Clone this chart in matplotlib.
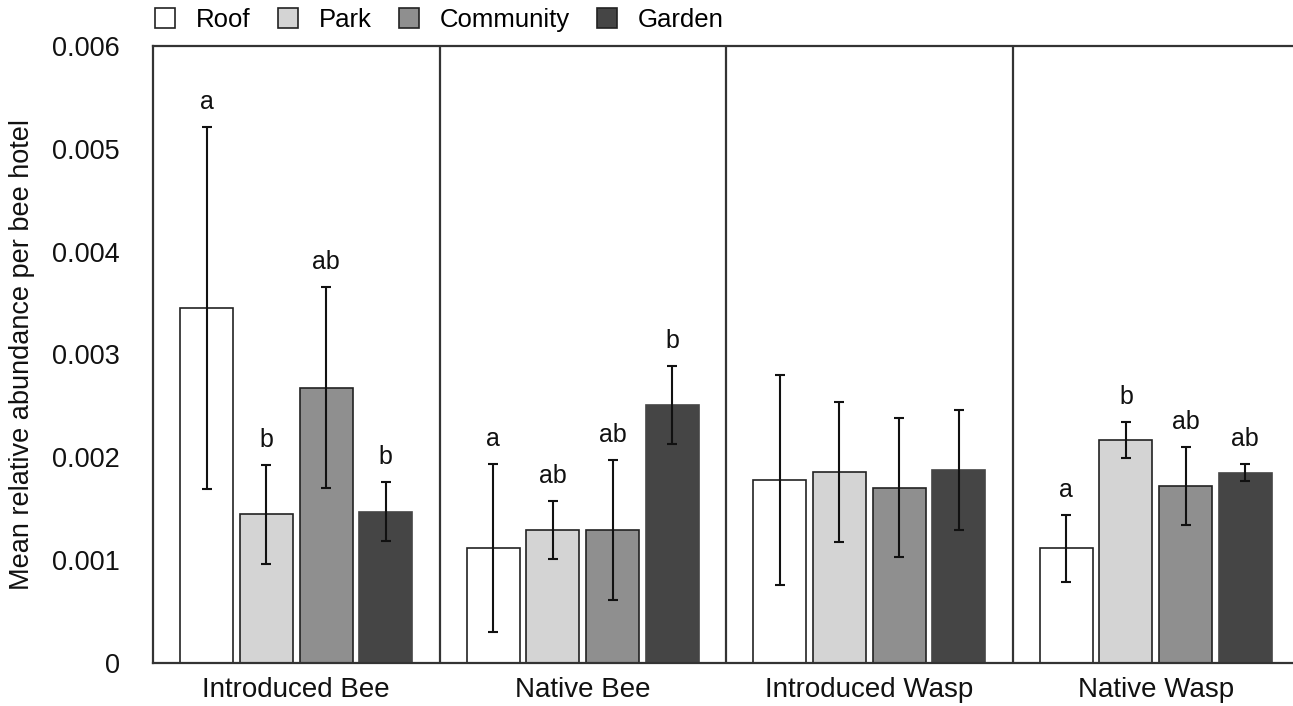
import matplotlib
matplotlib.use("Agg")
import matplotlib.pyplot as plt
from matplotlib.patches import Patch
import numpy as np

plt.rcParams['font.family'] = ['Liberation Sans', 'DejaVu Sans']

groups = ["Introduced Bee", "Native Bee", "Introduced Wasp", "Native Wasp"]
sites = ["Roof", "Park", "Community", "Garden"]
colors = ["#ffffff", "#d4d4d4", "#8f8f8f", "#454545"]
edges = ["#222222", "#222222", "#222222", "#454545"]

means = {
    "Roof":      [0.00345, 0.001121, 0.00178, 0.001115],
    "Park":      [0.001446, 0.001293, 0.001857, 0.002169],
    "Community": [0.002678, 0.001293, 0.001705, 0.001721],
    "Garden":    [0.001472, 0.002509, 0.001874, 0.001851],
}
errs = {
    "Roof":      [0.001759, 0.000816, 0.001017, 0.000324],
    "Park":      [0.000479, 0.000284, 0.000681, 0.000178],
    "Community": [0.000978, 0.000678, 0.000679, 0.000381],
    "Garden":    [0.000287, 0.000378, 0.000584, 0.000085],
}
letters = {
    "Roof":      ["a", "a", "", "a"],
    "Park":      ["b", "ab", "", "b"],
    "Community": ["ab", "ab", "", "ab"],
    "Garden":    ["b", "b", "", "ab"],
}
yticks = [0, 0.001, 0.002, 0.003, 0.004, 0.005, 0.006]
ytick_labels = ["0", "0.001", "0.002", "0.003", "0.004", "0.005", "0.006"]

W, H = 1293, 706
fig = plt.figure(figsize=(W / 100, H / 100), dpi=100)
ax = fig.add_axes([153 / W, 1 - 663 / H, (1299 - 153) / W, (663 - 46) / H])

ng = len(groups)
base = np.arange(ng)
spacing = 0.208
width = 0.185
for j, s in enumerate(sites):
    x = base + 0.5 + (j - 1.5) * spacing
    ax.bar(x, means[s], width=width, color=colors[j], edgecolor=edges[j],
           linewidth=1.2, zorder=2)
    ax.errorbar(x, means[s], yerr=errs[s], fmt="none", ecolor="#111111",
                elinewidth=1.5, capsize=3.6, capthick=1.5, zorder=3)
    for xi, m, e, lab in zip(x, means[s], errs[s], letters[s]):
        if lab:
            ax.annotate(lab, (xi, m + e), xytext=(0, 18), textcoords="offset points",
                        ha="center", va="center", fontsize=18, color="#111111")

for k in range(1, ng):
    ax.axvline(k, color="#333333", linewidth=1.6, zorder=1)

ax.set_xlim(0, ng)
ax.set_ylim(0, 0.006)
ax.set_yticks(yticks)
ax.set_yticklabels(ytick_labels)
ax.set_xticks(base + 0.5)
ax.set_xticklabels(groups)
ax.tick_params(axis="y", length=0, pad=24, labelsize=19.5, labelcolor="#111111")
ax.tick_params(axis="x", length=0, pad=10, labelsize=20, labelcolor="#111111")
for sp in ax.spines.values():
    sp.set_color("#333333")
    sp.set_linewidth(1.6)

fig.text(22 / W, 1 - 355 / H, "Mean relative abundance per bee hotel", rotation=90,
         ha="center", va="center", fontsize=19.5, color="#111111")

handles = [Patch(facecolor=c, edgecolor="#222222", linewidth=1.2) for c in colors]
fig.legend(handles, sites, loc="center left", bbox_to_anchor=(155 / W, 1 - 20 / H),
           ncol=4, frameon=False, fontsize=18.5, borderpad=0, borderaxespad=0,
           handlelength=0.78, handleheight=0.78, handletextpad=0.82,
           columnspacing=1.05)

fig.savefig("out.png", dpi=100)
